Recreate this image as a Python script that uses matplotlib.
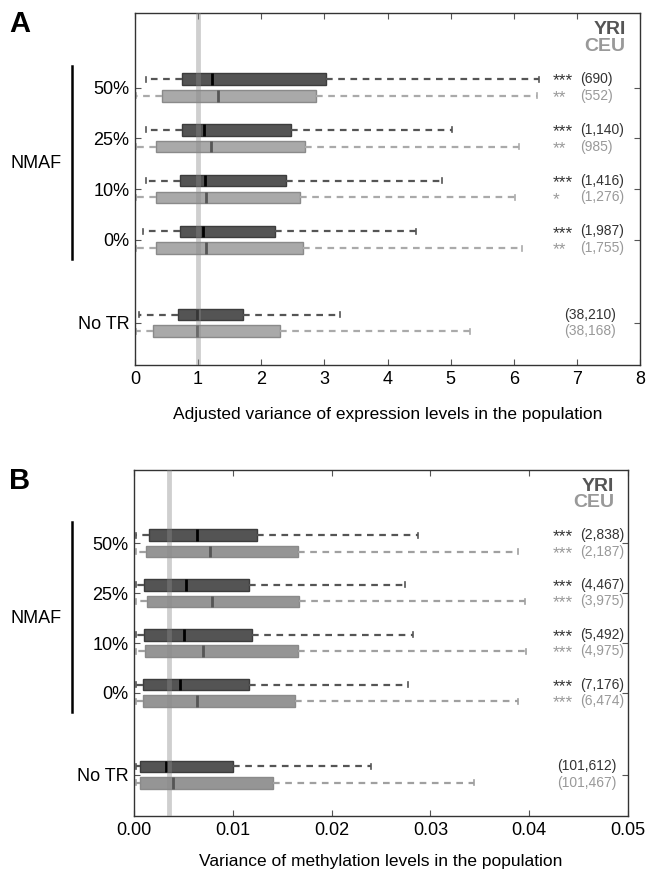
import matplotlib
matplotlib.use("Agg")
import matplotlib.pyplot as plt
from matplotlib.transforms import blended_transform_factory

plt.rcParams['font.family'] = ['Liberation Sans', 'DejaVu Sans']

# categories (top to bottom)
groups = ["50%", "25%", "10%", "0%", "No TR"]
group_pos = [0, 1, 2, 3, 4.64]

# box stats per row: (whisker low, q1, median, q3, whisker high)
expr_yri = [(0.17, 0.75, 1.22, 3.03, 6.40),
            (0.17, 0.74, 1.09, 2.47, 5.02),
            (0.17, 0.72, 1.11, 2.39, 4.86),
            (0.12, 0.71, 1.08, 2.22, 4.45),
            (0.07, 0.68, 0.99, 1.71, 3.25)]
expr_ceu = [(0.01, 0.43, 1.32, 2.87, 6.37),
            (0.01, 0.34, 1.20, 2.69, 6.08),
            (0.01, 0.33, 1.13, 2.61, 6.02),
            (0.01, 0.33, 1.13, 2.66, 6.13),
            (0.01, 0.29, 0.99, 2.30, 5.30)]
expr_yri_stars = ["***", "***", "***", "***", ""]
expr_ceu_stars = ["**", "**", "*", "**", ""]
expr_yri_n = ["(690)", "(1,140)", "(1,416)", "(1,987)", "(38,210)"]
expr_ceu_n = ["(552)", "(985)", "(1,276)", "(1,755)", "(38,168)"]
expr_ref = 1.0

meth_yri = [(0.0002, 0.0015, 0.0064, 0.0124, 0.0287),
            (0.0002, 0.0010, 0.0053, 0.0116, 0.0274),
            (0.0002, 0.0010, 0.0051, 0.0119, 0.0282),
            (0.0002, 0.0009, 0.0047, 0.0116, 0.0277),
            (0.0002, 0.0006, 0.0032, 0.0100, 0.0240)]
meth_ceu = [(0.0002, 0.0012, 0.0077, 0.0166, 0.0389),
            (0.0002, 0.0013, 0.0079, 0.0167, 0.0396),
            (0.0002, 0.0011, 0.0070, 0.0166, 0.0397),
            (0.0002, 0.0009, 0.0064, 0.0163, 0.0389),
            (0.0002, 0.0006, 0.0039, 0.0141, 0.0344)]
meth_yri_stars = ["***", "***", "***", "***", ""]
meth_ceu_stars = ["***", "***", "***", "***", ""]
meth_yri_n = ["(2,838)", "(4,467)", "(5,492)", "(7,176)", "(101,612)"]
meth_ceu_n = ["(2,187)", "(3,975)", "(4,975)", "(6,474)", "(101,467)"]
meth_ref = 0.0035

YRI_FILL, YRI_EDGE, YRI_TEXT = '#545454', '#3c3c3c', '#333333'
OFF = 0.165


def to_stats(rows):
    return [dict(whislo=r[0], q1=r[1], med=r[2], q3=r[3], whishi=r[4], fliers=[])
            for r in rows]


def draw_boxes(ax, rows, pos, fill, edge, med_color, wcolor):
    ax.bxp(to_stats(rows), positions=pos, widths=0.23, orientation='horizontal',
           patch_artist=True, showfliers=False, capwidths=0.1,
           boxprops=dict(facecolor=fill, edgecolor=edge, linewidth=1),
           medianprops=dict(color=med_color, linewidth=2),
           whiskerprops=dict(color=wcolor, linewidth=1.6, linestyle=(0, (3, 2.5))),
           capprops=dict(color=wcolor, linewidth=1.2))


def panel(fig, rect, letter, yri, ceu, ystars, cstars, yn, cn, ref,
          xmax, xticks, xfmt, xlabel, ceu_fill, ceu_wcolor, labelpad):
    ax = fig.add_axes(rect)
    yri_pos = [p - OFF for p in group_pos]
    ceu_pos = [p + OFF for p in group_pos]
    draw_boxes(ax, yri, yri_pos, YRI_FILL, YRI_EDGE, 'black', '#555555')
    draw_boxes(ax, ceu, ceu_pos, ceu_fill, '#8a8a8a', '#555555', ceu_wcolor)
    ax.axvline(ref, color='#898989', alpha=0.4, linewidth=3.5, zorder=5)

    ax.set_xlim(0, xmax)
    ax.set_ylim(5.47, -1.47)
    ax.set_xticks(xticks)
    ax.set_xticklabels([xfmt.format(t) for t in xticks])
    ax.set_yticks(group_pos)
    ax.set_yticklabels(groups)
    ax.tick_params(direction='in', top=True, right=True, length=4,
                   labelsize=13, pad=4, color='#555555')
    ax.set_xlabel(xlabel, fontsize=12.5, labelpad=labelpad)
    for s in ax.spines.values():
        s.set_color('#333333')
        s.set_linewidth(1)

    ax.text(0.972, 0.952, "YRI", transform=ax.transAxes, ha='right', va='center',
            fontsize=14, fontweight='bold', color='#555555')
    ax.text(0.972, 0.906, "CEU", transform=ax.transAxes, ha='right', va='center',
            fontsize=14, fontweight='bold', color='#999999')

    tr = blended_transform_factory(fig.transFigure, ax.transData)
    for i in range(len(groups)):
        for y, star, n, col in [(yri_pos[i], ystars[i], yn[i], YRI_TEXT),
                                (ceu_pos[i], cstars[i], cn[i], '#999999')]:
            if star:
                ax.text(553 / 646, y + 0.035, star, transform=tr, ha='left',
                        va='center', fontsize=12.5, color=col)
                ax.text(580 / 646, y, n, transform=tr, ha='left', va='center',
                        fontsize=10, color=col)
            else:
                ax.text(616 / 646, y, n, transform=tr, ha='right', va='center',
                        fontsize=10, color=col)

    # NMAF bracket
    ax.plot([72 / 646, 72 / 646], [-0.42, 3.38], transform=tr, color='black',
            linewidth=1.8, clip_on=False)
    ax.text(10 / 646, 1.5, "NMAF", transform=tr, ha='left', va='center', fontsize=13)

    top = rect[1] + rect[3]
    fig.text(0.014, top + 0.003, letter, fontsize=21, fontweight='bold',
             ha='left', va='top')
    return ax


fig = plt.figure(figsize=(6.46, 8.74), dpi=100)

panel(fig, [135 / 646, 1 - 365 / 874, 505 / 646, 352 / 874], "A",
      expr_yri, expr_ceu, expr_yri_stars, expr_ceu_stars, expr_yri_n, expr_ceu_n,
      expr_ref, 8, [0, 1, 2, 3, 4, 5, 6, 7, 8], "{:g}",
      "Adjusted variance of expression levels in the population",
      '#a9a9a9', '#aaaaaa', 14)

panel(fig, [134 / 646, 1 - 816 / 874, 494 / 646, 346 / 874], "B",
      meth_yri, meth_ceu, meth_yri_stars, meth_ceu_stars, meth_yri_n, meth_ceu_n,
      meth_ref, 0.05, [0, 0.01, 0.02, 0.03, 0.04, 0.05], "{:.2f}",
      "Variance of methylation levels in the population",
      '#959595', '#a0a0a0', 11)

fig.savefig("out.png", dpi=100)
